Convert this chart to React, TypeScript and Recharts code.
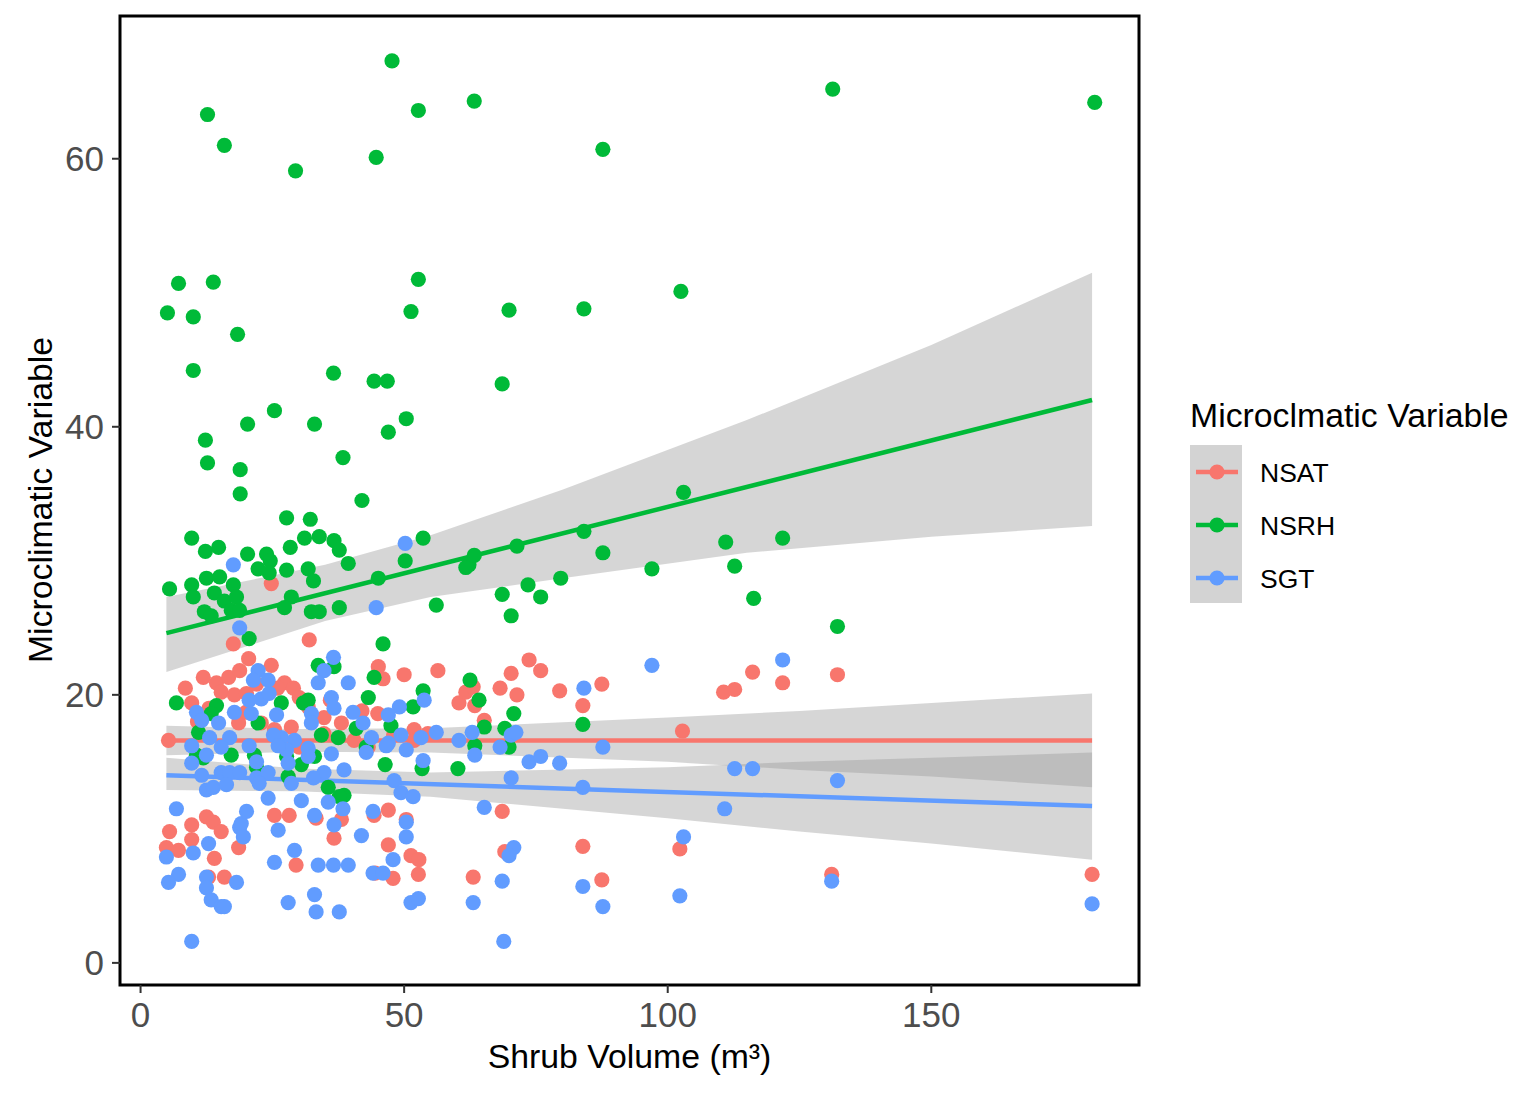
import {
  ComposedChart,
  Scatter,
  Line,
  Area,
  XAxis,
  YAxis,
  ReferenceArea,
} from 'recharts';

// [shrub volume, value]
const nsatPoints = [
  [24.8, 28.3], [17.6, 23.8], [32.0, 24.1], [20.5, 22.7], [24.8, 22.2], [11.9, 21.3], [14.4, 20.9], [16.7, 21.3],
  [18.8, 21.8], [15.3, 20.2], [17.8, 20.0], [27.3, 20.9], [29.0, 20.5], [9.7, 19.4], [20.1, 20.1], [30.1, 19.8],
  [31.8, 19.1], [45.1, 22.1], [46.0, 21.2], [50.0, 21.5], [56.4, 21.8], [34.8, 18.3], [38.1, 17.9], [34.8, 17.1],
  [18.6, 17.9], [22.9, 17.9], [25.4, 17.4], [28.6, 17.6], [40.5, 16.6], [43.2, 16.1], [51.9, 17.4], [54.5, 17.1],
  [51.9, 16.6], [30.1, 16.1], [5.3, 16.6], [10.8, 18.0], [13.0, 19.0], [20.0, 18.7], [26.0, 20.5], [36.0, 19.6],
  [42.0, 18.8], [48.0, 17.0], [45.0, 18.6], [8.5, 20.5], [22.0, 20.8],
  [25.4, 11.0], [28.2, 11.0], [33.3, 10.8], [12.5, 10.9], [13.8, 10.5], [15.3, 9.8], [9.7, 10.3], [5.5, 9.8],
  [9.7, 9.2], [4.9, 8.6], [7.2, 8.4], [14.0, 7.8], [18.6, 8.6], [15.9, 6.4], [12.9, 6.4], [29.5, 7.3],
  [36.7, 9.3], [38.1, 10.7], [47.0, 11.4], [50.4, 10.7], [44.3, 11.0], [47.0, 8.8], [51.3, 8.0], [52.8, 7.7],
  [52.7, 6.6], [47.9, 6.3], [44.5, 6.7],
  [60.4, 19.4], [61.7, 20.2], [63.1, 20.6], [63.4, 19.2], [65.2, 18.1], [68.2, 20.5], [70.3, 21.6], [71.4, 20.0],
  [73.7, 22.6], [75.9, 21.8], [79.5, 20.3], [83.9, 19.2], [87.5, 20.8], [102.8, 17.3], [110.6, 20.2], [112.7, 20.4],
  [116.1, 21.7], [121.8, 20.9], [132.2, 21.5], [68.6, 11.3], [83.9, 8.7], [102.3, 8.5], [63.1, 6.4], [87.5, 6.2],
  [131.1, 6.6], [180.5, 6.6], [69.1, 8.3],
];

const nsrhPoints = [
  [47.7, 67.3], [12.7, 63.3], [15.9, 61.0], [29.4, 59.1], [44.7, 60.1], [52.7, 63.6], [63.3, 64.3], [87.7, 60.7],
  [131.3, 65.2], [181.0, 64.2], [5.1, 48.5], [7.2, 50.7], [10.0, 48.2], [13.8, 50.8], [18.4, 46.9], [10.0, 44.2],
  [52.7, 51.0], [51.3, 48.6], [69.9, 48.7], [84.1, 48.8], [102.5, 50.1], [36.6, 44.0], [44.3, 43.4], [46.8, 43.4],
  [68.6, 43.2], [25.4, 41.2], [20.3, 40.2], [33.0, 40.2], [12.3, 39.0], [47.0, 39.6], [50.4, 40.6], [12.7, 37.3],
  [38.4, 37.7], [18.9, 36.8], [18.9, 35.0], [42.0, 34.5], [103.0, 35.1],
  [9.7, 31.7], [12.3, 30.7], [14.8, 31.0], [20.3, 30.5], [27.7, 33.2], [32.2, 33.1], [33.9, 31.8], [31.1, 31.7],
  [36.7, 31.5], [37.7, 30.8], [23.9, 30.5], [24.6, 30.0], [28.4, 31.0], [53.6, 31.7], [50.2, 30.0], [39.4, 29.8],
  [62.3, 29.7], [63.3, 30.4], [71.4, 31.1], [84.1, 32.2], [87.7, 30.6], [111.0, 31.4], [121.8, 31.7], [112.7, 29.6],
  [97.0, 29.4], [5.5, 27.9], [9.7, 28.2], [12.5, 28.7], [15.0, 28.8], [17.6, 28.2], [14.0, 27.6], [10.0, 27.3],
  [15.9, 27.0], [18.2, 27.3], [12.1, 26.2], [13.4, 25.9], [17.2, 26.3], [18.8, 26.3], [20.6, 24.2], [22.3, 29.4],
  [24.4, 29.1], [27.7, 29.3], [31.8, 29.4], [32.8, 28.5], [28.6, 27.3], [27.3, 26.5], [32.4, 26.2], [33.9, 26.2],
  [37.7, 26.5], [45.1, 28.7], [46.0, 23.8], [56.1, 26.7], [73.5, 28.2], [75.9, 27.3], [79.7, 28.7], [68.6, 27.5],
  [70.3, 25.9], [116.3, 27.2], [132.2, 25.1], [61.7, 29.5],
  [6.8, 19.4], [14.4, 19.2], [13.4, 18.6], [11.0, 17.2], [10.6, 15.5], [17.2, 15.5], [22.3, 17.9], [26.7, 19.4],
  [31.8, 19.6], [30.9, 19.4], [33.7, 22.2], [36.7, 22.1], [34.3, 17.0], [37.5, 16.8], [40.9, 17.5], [44.3, 21.3],
  [43.2, 19.8], [47.5, 17.7], [51.7, 19.1], [53.6, 20.3], [42.8, 16.1], [21.6, 15.5], [27.7, 15.4], [33.0, 15.4],
  [62.5, 21.1], [70.8, 18.6], [60.2, 14.5], [53.4, 14.5], [46.4, 14.8], [38.6, 12.5], [35.6, 13.1], [83.9, 17.8],
  [69.1, 17.5], [64.2, 19.6], [11.9, 15.3], [22.0, 14.6], [28.0, 13.9], [30.5, 14.8], [37.7, 12.4], [65.2, 17.6],
  [63.4, 16.2], [69.9, 16.1],
];

const sgtPoints = [
  [17.6, 29.7], [50.2, 31.3], [44.7, 26.5], [84.1, 20.5], [97.0, 22.2], [121.8, 22.6],
  [18.8, 25.0], [36.6, 22.8], [34.8, 21.8], [22.3, 21.8], [24.2, 21.1], [21.4, 21.1], [33.7, 20.9], [39.4, 20.9],
  [22.9, 19.7], [20.6, 19.6], [24.4, 20.1], [36.2, 19.8], [36.7, 19.0], [53.8, 19.6], [10.6, 18.7], [17.8, 18.7],
  [21.0, 18.6], [25.8, 18.5], [32.4, 18.6], [40.3, 18.7], [49.1, 19.1], [47.0, 18.5], [11.6, 18.1], [14.8, 17.9],
  [32.4, 17.9], [42.2, 17.9], [56.1, 17.2], [13.1, 16.8], [16.9, 16.8], [26.7, 16.8], [25.2, 17.0], [29.2, 16.6],
  [43.8, 16.8], [49.4, 17.0], [53.2, 16.8], [9.7, 16.2], [15.3, 16.1], [20.6, 16.2], [27.7, 15.9], [31.8, 16.0],
  [36.2, 15.6], [47.0, 16.4], [50.4, 15.9],
  [9.7, 14.9], [12.5, 15.5], [22.0, 15.0], [11.6, 14.0], [15.3, 14.2], [16.9, 14.2], [18.8, 14.2], [22.0, 13.8],
  [24.2, 14.2], [26.1, 16.2], [28.0, 14.9], [31.8, 15.4], [34.8, 14.2], [38.6, 14.4], [12.5, 12.9], [13.8, 13.1],
  [16.3, 13.3], [22.5, 13.4], [24.2, 12.3], [28.6, 13.4], [30.5, 12.1], [32.8, 13.8], [35.6, 12.0], [38.4, 11.5],
  [42.8, 15.7], [46.6, 16.2], [48.1, 13.6], [49.4, 12.7], [51.7, 12.4], [53.6, 15.1], [6.8, 11.5], [12.9, 8.9],
  [10.0, 8.2], [4.9, 7.9], [7.2, 6.6], [5.3, 6.0], [12.5, 6.4], [12.5, 5.6], [13.4, 4.7], [15.3, 4.2],
  [15.9, 4.2], [18.2, 6.0], [18.8, 10.1], [19.1, 10.4], [20.1, 11.3], [19.5, 9.4], [26.1, 9.9], [25.4, 7.5],
  [29.2, 8.4], [28.0, 4.5], [33.0, 5.1], [33.3, 3.8], [33.7, 7.3], [36.6, 7.3], [39.4, 7.3], [37.7, 3.8],
  [33.0, 11.0], [36.7, 10.3], [41.9, 9.5], [44.1, 11.3], [44.1, 6.7], [46.0, 6.7], [47.9, 7.7], [50.4, 9.4],
  [50.4, 10.5], [51.3, 4.5], [52.7, 4.8], [9.7, 1.6],
  [60.4, 16.6], [62.9, 17.2], [63.4, 15.5], [68.2, 16.1], [70.3, 13.8], [70.3, 17.0], [71.2, 17.2], [73.7, 15.0],
  [75.9, 15.4], [79.5, 14.9], [87.7, 16.1], [83.9, 13.1], [112.7, 14.5], [116.1, 14.5], [132.2, 13.6], [110.8, 11.5],
  [65.2, 11.6], [103.0, 9.4], [70.8, 8.6], [69.9, 8.0], [68.6, 6.1], [63.1, 4.5], [83.9, 5.7], [87.7, 4.2],
  [102.3, 5.0], [131.1, 6.1], [180.5, 4.4], [68.9, 1.6],
];

// fitted lines (end points)
const nsatFit = [[4.9, 16.6], [180.5, 16.6]];
const nsrhFit = [[4.9, 24.6], [180.5, 42.0]];
const sgtFit = [[4.9, 14.0], [180.5, 11.7]];

// confidence bands [x, low, high]
const nsatBand = [[4.9, 15.5, 17.7], [30, 15.75, 17.45], [55, 15.7, 17.5], [100, 15.0, 18.3], [125, 14.4, 18.8], [150, 13.9, 19.4], [180.5, 13.1, 20.1]];
const nsrhBand = [[4.9, 21.7, 27.3], [20, 23.6, 28.5], [35, 25.5, 29.7], [55, 27.3, 31.9], [80, 28.7, 35.3], [115, 30.6, 40.5], [150, 31.8, 46.1], [180.5, 32.6, 51.5]];
const sgtBand = [[4.9, 12.9, 15.3], [30, 12.8, 14.5], [55, 12.4, 14.2], [100, 10.8, 14.6], [125, 9.8, 15.0], [150, 8.9, 15.3], [180.5, 7.7, 15.7]];

const xTicks = [0, 50, 100, 150];
const yTicks = [0, 20, 40, 60];

const series = [
  { name: 'NSAT', color: '#F8766D', points: nsatPoints, fit: nsatFit, band: nsatBand },
  { name: 'NSRH', color: '#00BA38', points: nsrhPoints, fit: nsrhFit, band: nsrhBand },
  { name: 'SGT', color: '#619CFF', points: sgtPoints, fit: sgtFit, band: sgtBand },
];

const FONT = '"Liberation Sans", Arial, sans-serif';
const X_DOMAIN = [-3.9, 189.4];
const Y_DOMAIN = [-1.65, 70.65];

const toXY = (rows: number[][]) => rows.map(([x, y]) => ({ x, y }));
const toBand = (rows: number[][]) => rows.map(([x, lo, hi]) => ({ x, range: [lo, hi] }));

function Dot(props: any) {
  const { cx, cy, fill } = props;
  if (cx == null || cy == null) return null;
  return <circle cx={cx} cy={cy} r={7.6} fill={fill} />;
}

export default function App() {
  return (
    <div style={{ position: 'absolute', left: 0, top: 0, width: 1532, height: 1099, background: '#fff', fontFamily: FONT }}>
      <ComposedChart width={1532} height={1099} margin={{ top: 16, right: 393, bottom: 0, left: 0 }}>
        <XAxis
          type="number"
          dataKey="x"
          domain={X_DOMAIN}
          allowDataOverflow
          ticks={xTicks}
          height={114}
          axisLine={false}
          tickSize={8}
          tickMargin={9}
          tickLine={{ stroke: '#333333', strokeWidth: 2 }}
          tick={{ fill: '#4D4D4D', fontSize: 35, fontFamily: FONT }}
        />
        <YAxis
          type="number"
          domain={Y_DOMAIN}
          allowDataOverflow
          ticks={yTicks}
          width={120}
          axisLine={false}
          tickSize={8}
          tickMargin={8}
          tickLine={{ stroke: '#333333', strokeWidth: 2 }}
          tick={{ fill: '#4D4D4D', fontSize: 35, fontFamily: FONT }}
        />
        {series.map((s) => (
          <Area
            key={`band-${s.name}`}
            data={toBand(s.band)}
            dataKey="range"
            type="linear"
            stroke="none"
            fill="#999999"
            fillOpacity={0.4}
            isAnimationActive={false}
            activeDot={false}
          />
        ))}
        {series.map((s) => (
          <Line
            key={`fit-${s.name}`}
            data={toXY(s.fit)}
            dataKey="y"
            type="linear"
            stroke={s.color}
            strokeWidth={4.5}
            dot={false}
            activeDot={false}
            isAnimationActive={false}
          />
        ))}
        {series.map((s) => (
          <Scatter
            key={`pts-${s.name}`}
            data={toXY(s.points)}
            dataKey="y"
            fill={s.color}
            shape={Dot}
            isAnimationActive={false}
          />
        ))}
        <ReferenceArea
          x1={X_DOMAIN[0]}
          x2={X_DOMAIN[1]}
          y1={Y_DOMAIN[0]}
          y2={Y_DOMAIN[1]}
          ifOverflow="visible"
          fill="none"
          stroke="#000"
          strokeWidth={3}
        />
      </ComposedChart>

      <svg width={1532} height={1099} style={{ position: 'absolute', left: 0, top: 0, pointerEvents: 'none' }}>
        <text x={629.5} y={1068} textAnchor="middle" fontSize={33.8} fill="#000" fontFamily={FONT}>
          Shrub Volume (m³)
        </text>
        <text
          x={52}
          y={500}
          textAnchor="middle"
          fontSize={33.8}
          fill="#000"
          fontFamily={FONT}
          transform="rotate(-90 52 500)"
        >
          Microclimatic Variable
        </text>

        <text x={1190} y={427} fontSize={33.8} fill="#000" fontFamily={FONT}>
          Microclmatic Variable
        </text>
        <rect x={1190} y={445} width={52} height={158} fill="#D3D3D3" />
        {series.map((s, i) => {
          const cy = 472 + i * 53;
          return (
            <g key={`leg-${s.name}`}>
              <line x1={1196} x2={1238} y1={cy} y2={cy} stroke={s.color} strokeWidth={4.5} />
              <circle cx={1217} cy={cy} r={7.6} fill={s.color} />
              <text x={1260} y={cy + 9.5} fontSize={26.5} fill="#000" fontFamily={FONT}>
                {s.name}
              </text>
            </g>
          );
        })}
      </svg>
    </div>
  );
}
